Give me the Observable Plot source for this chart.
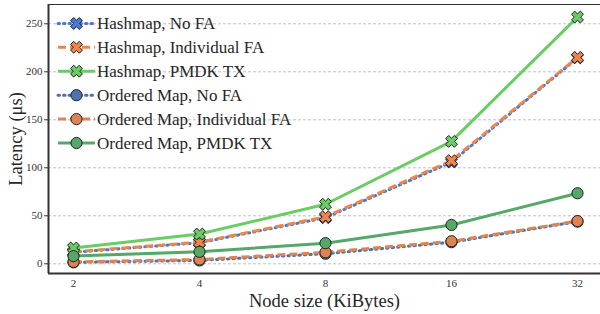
<!DOCTYPE html>
<html>
<head>
<meta charset="utf-8">
<script src="https://cdn.jsdelivr.net/npm/d3@7"></script>
<script src="https://cdn.jsdelivr.net/npm/@observablehq/plot@0.6"></script>
<style>
  html, body { margin: 0; padding: 0; background: #fff; }
  #wrap { position: relative; width: 600px; height: 314px; font-family: 'Liberation Serif', 'DejaVu Serif', 'Times New Roman', serif; }
  #wrap svg, #wrap svg text { font-family: 'Liberation Serif', 'DejaVu Serif', 'Times New Roman', serif !important; }
  #legend { position: absolute; left: 0; top: 0; pointer-events: none; }
</style>
</head>
<body>
<div id="wrap"></div>
<script>
// ---- data ----
const sizes = [2, 4, 8, 16, 32];
const seriesNames = [
  "Hashmap, No FA", "Hashmap, Individual FA", "Hashmap, PMDK TX",
  "Ordered Map, No FA", "Ordered Map, Individual FA", "Ordered Map, PMDK TX"
];
const hashNoFA   = [12, 22, 48, 106, 214.5];
const hashIndFA  = [12.5, 22.5, 49, 107.5, 215];
const hashPMDK   = [16.5, 31, 62, 127.5, 257];
const ordNoFA    = [1.5, 3.5, 10.5, 22.5, 44];
const ordIndFA   = [2, 4.5, 12, 23.5, 44.5];
const ordPMDK    = [8, 12.5, 21.5, 40.5, 73.5];
const seriesValues = [hashNoFA, hashIndFA, hashPMDK, ordNoFA, ordIndFA, ordPMDK];
const yTicks = [0, 50, 100, 150, 200, 250];
const xLabel = "Node size (KiBytes)";
const yLabel = "Latency (μs)";

// ---- styles ----
const FONT = "'Liberation Serif', 'DejaVu Serif', 'Times New Roman', serif";
const colors = ["#4878d0", "#ee854a", "#6acc64", "#4c72b0", "#dd8452", "#55a868"];
const dashes = ["1.5,4", "8,4", null, "1.5,4", "8,4", null];
const caps   = ["round", "butt", "butt", "round", "butt", "butt"];
const markers = ["x", "x", "x", "o", "o", "o"];

// filled "X" symbol like matplotlib's 'X'
const filledX = {
  draw(ctx, size) {
    const L = Math.sqrt(size / Math.PI);
    const t = L * 0.36;
    const pts = [[t,L],[t,t],[L,t],[L,-t],[t,-t],[t,-L],[-t,-L],[-t,-t],[-L,-t],[-L,t],[-t,t],[-t,L]];
    const c = Math.SQRT1_2;
    pts.forEach(([x, y], i) => {
      const rx = (x - y) * c, ry = (x + y) * c;
      i ? ctx.lineTo(rx, ry) : ctx.moveTo(rx, ry);
    });
    ctx.closePath();
  }
};

const rows = [];
seriesNames.forEach((name, s) => sizes.forEach((sz, i) => rows.push({series: name, s, size: sz, value: seriesValues[s][i]})));

const xDomain = [1.743, 36.32];
const yDomain = [-10.1, 270.1];

const marks = [
  Plot.ruleY(yTicks, {stroke: "#b0b0b0", strokeWidth: 0.8, strokeDasharray: "3,2"}),
  Plot.axisY(yTicks, {tickSize: 4, tickPadding: 2, fontSize: 11, label: null, stroke: "#333", color: "#333"}),
  Plot.axisX(sizes, {tickSize: 0, tickPadding: 6, fontSize: 11, label: null, color: "#333", tickFormat: d => String(d)}),
];
seriesNames.forEach((name, s) => {
  const data = rows.filter(d => d.s === s);
  marks.push(Plot.line(data, {
    x: "size", y: "value", stroke: colors[s], strokeWidth: 3,
    strokeDasharray: dashes[s] || undefined, strokeLinecap: caps[s]
  }));
  marks.push(Plot.dot(data, {
    x: "size", y: "value", fill: colors[s], stroke: "#222", strokeWidth: 1,
    r: markers[s] === "x" ? 6.2 : 5.6,
    symbol: markers[s] === "x" ? filledX : "circle"
  }));
});
marks.push(
  Plot.ruleX([xDomain[0]], {stroke: "#333", strokeWidth: 2}),
  Plot.ruleY([yDomain[0]], {stroke: "#333", strokeWidth: 2}),
  Plot.ruleY([yDomain[1]], {stroke: "#333", strokeWidth: 1.2}),
  Plot.text([yLabel], {frameAnchor: "left", dx: -32, rotate: -90, textAnchor: "middle", lineAnchor: "middle", fontSize: 18.5, fill: "#262626", text: d => d}),
  Plot.text([xLabel], {frameAnchor: "bottom", dy: 28, textAnchor: "middle", lineAnchor: "middle", fontSize: 18.5, fill: "#262626", text: d => d})
);

const chart = Plot.plot({
  width: 600, height: 314,
  marginLeft: 48, marginRight: 0, marginTop: 4, marginBottom: 41,
  style: {fontFamily: FONT, background: "#fff", overflow: "visible"},
  x: {type: "log", base: 2, domain: xDomain, axis: null},
  y: {domain: yDomain, axis: null},
  marks
});
document.getElementById("wrap").appendChild(chart);

// ---- legend (drawn with d3 over the plot) ----
const leg = d3.select("#wrap").append("svg").attr("id", "legend").attr("width", 300).attr("height", 160);
const rowY = [23.5, 47.3, 71.2, 95.2, 119.1, 143];
const sym = d3.symbol();
seriesNames.forEach((name, s) => {
  const g = leg.append("g").attr("transform", `translate(0,${rowY[s]})`);
  g.append("line").attr("x1", 58).attr("x2", 95).attr("y1", 0).attr("y2", 0)
    .attr("stroke", colors[s]).attr("stroke-width", 3)
    .attr("stroke-dasharray", dashes[s]).attr("stroke-linecap", caps[s]);
  g.append("path").attr("transform", "translate(76.5,0)")
    .attr("d", sym.type(markers[s] === "x" ? filledX : d3.symbolCircle).size(Math.PI * (markers[s] === "x" ? 6.2 : 5.6) ** 2)())
    .attr("fill", colors[s]).attr("stroke", "#222").attr("stroke-width", 1);
  g.append("text").attr("x", 97).attr("y", 0).attr("dy", "0.35em")
    .style("font-family", FONT).attr("font-size", 17).attr("fill", "#262626")
    .text(name);
});
</script>
</body>
</html>
